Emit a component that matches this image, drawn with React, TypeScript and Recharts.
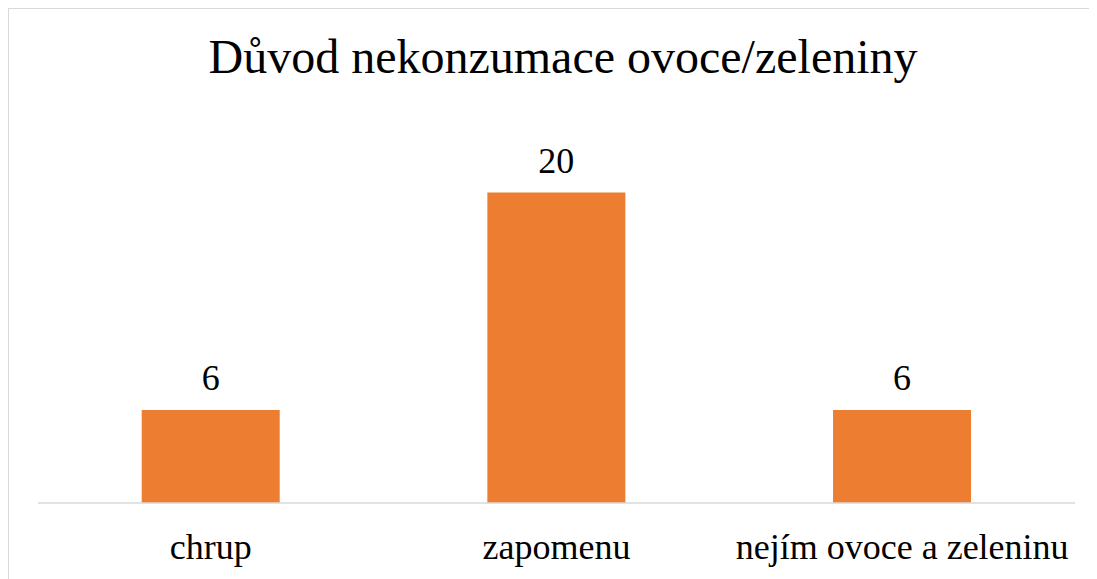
import { BarChart, Bar, XAxis, YAxis, LabelList } from "recharts";

const categories = ["chrup", "zapomenu", "nejím ovoce a zeleninu"];
const counts = [6, 20, 6];

const data = categories.map((name, i) => ({ name, value: counts[i] }));

const font = "'Liberation Serif', 'Times New Roman', serif";

export default function App() {
  return (
    <div
      style={{
        position: "relative",
        width: 1089,
        height: 571,
        borderTop: "1px solid #d9d9d9",
        borderLeft: "1px solid #d9d9d9",
        background: "#fff",
        boxSizing: "border-box",
        fontFamily: font,
        overflow: "hidden",
      }}
    >
      <div
        style={{
          position: "absolute",
          top: 18,
          left: 11,
          width: 1086,
          textAlign: "center",
          fontSize: 48,
          color: "#000",
          lineHeight: "60px",
        }}
      >
        Důvod nekonzumace ovoce/zeleniny
      </div>
      <BarChart
        width={1087}
        height={570}
        data={data}
        margin={{ top: 106, right: 21, bottom: 16, left: 29 }}
        barCategoryGap="30%"
      >
        <XAxis
          dataKey="name"
          height={60}
          tickLine={false}
          tickSize={6}
          tickMargin={24}
          axisLine={{ stroke: "#d9d9d9", strokeWidth: 1.5 }}
          tick={{ fontSize: 36, fill: "#000", fontFamily: font }}
          interval={0}
        />
        <YAxis hide domain={[0, 25]} />
        <Bar dataKey="value" fill="#ED7D31" isAnimationActive={false}>
          <LabelList
            dataKey="value"
            position="top"
            offset={20}
            fontSize={36}
            fill="#000"
            fontFamily={font}
          />
        </Bar>
      </BarChart>
    </div>
  );
}
